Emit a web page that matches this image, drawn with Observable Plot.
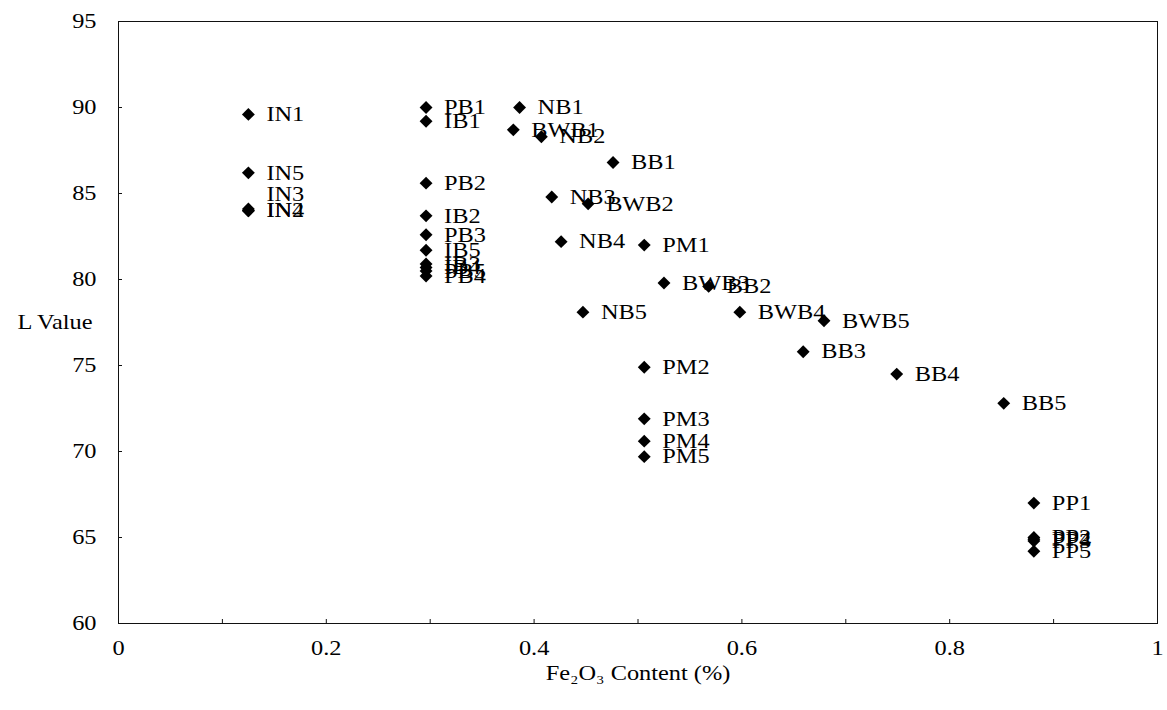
<!DOCTYPE html>
<html>
<head>
<meta charset="utf-8">
<script src="https://cdn.jsdelivr.net/npm/d3@7"></script>
<script src="https://cdn.jsdelivr.net/npm/@observablehq/plot@0.6"></script>
<style>
  html, body { margin: 0; padding: 0; background: #fff; }
  #chart svg { display: block; }
</style>
</head>
<body>
<div id="chart"></div>
<script>
// ---- data ----
const sampleNames = [
  "IN1","IN2","IN3","IN4","IN5",
  "IB1","IB2","IB3","IB4","IB5",
  "PB1","PB2","PB3","PB4","PB5",
  "NB1","NB2","NB3","NB4","NB5",
  "BWB1","BWB2","BWB3","BWB4","BWB5",
  "BB1","BB2","BB3","BB4","BB5",
  "PM1","PM2","PM3","PM4","PM5",
  "PP1","PP2","PP3","PP4","PP5"
];
const fe2o3Content = [
  0.125, 0.125, 0.125, 0.125, 0.125,
  0.296, 0.296, 0.296, 0.296, 0.296,
  0.296, 0.296, 0.296, 0.296, 0.296,
  0.386, 0.407, 0.417, 0.426, 0.447,
  0.380, 0.452, 0.525, 0.598, 0.679,
  0.476, 0.568, 0.659, 0.749, 0.852,
  0.506, 0.506, 0.506, 0.506, 0.506,
  0.881, 0.881, 0.881, 0.881, 0.881
];
const lValues = [
  89.6, 84.0, 84.1, 84.0, 86.2,
  89.2, 83.7, 80.9, 80.7, 81.7,
  90.0, 85.6, 82.6, 80.2, 80.5,
  90.0, 88.3, 84.8, 82.2, 78.1,
  88.7, 84.4, 79.8, 78.1, 77.6,
  86.8, 79.6, 75.8, 74.5, 72.8,
  82.0, 74.9, 71.9, 70.6, 69.7,
  67.0, 65.0, 64.8, 64.9, 64.2
];
const xTickLabels = [0, 0.2, 0.4, 0.6, 0.8, 1];
const xMinorTicks = [0, 0.1, 0.2, 0.3, 0.4, 0.5, 0.6, 0.7, 0.8, 0.9, 1];
const yTickLabels = [60, 65, 70, 75, 80, 85, 90, 95];
const xTitle = "Fe\u2082O\u2083 Content (%)";
const yTitle = "L Value";
const raisedLabels = ["IN3"];

// ---- table ----
const rows = sampleNames.map((name, i) => ({name, x: fe2o3Content[i], y: lValues[i]}));

const W = 1167, H = 710;
const mL = 118, mR = 10, mT = 21, mB = 87;
const plotW = W - mL - mR, plotH = H - mT - mB;
const font = "'Liberation Serif', 'Times New Roman', serif";
const fs = 21;

const chart = Plot.plot({
  width: W,
  height: H,
  marginLeft: mL,
  marginRight: mR,
  marginTop: mT,
  marginBottom: mB,
  style: {fontFamily: font, fontSize: fs + "px", color: "#000", background: "#fff"},
  x: {domain: [0, 1]},
  y: {domain: [60, 95]},
  marks: [
    Plot.frame({stroke: "#111", strokeWidth: 1}),
    Plot.tickX(xMinorTicks, {x: d => d, insetTop: plotH - 4, stroke: "#111"}),
    Plot.tickY(yTickLabels, {y: d => d, insetRight: plotW - 4, stroke: "#111"}),
    Plot.axisX(xTickLabels, {tickSize: 0, tickPadding: 17, tickFormat: d => String(d), fontSize: fs, label: null, fill: "#000"}),
    Plot.axisY(yTickLabels, {tickSize: 0, tickPadding: 22, tickFormat: d => String(d), fontSize: fs, label: null, fill: "#000"}),
    Plot.text([xTitle], {frameAnchor: "bottom", dy: 56, text: d => d, fontSize: fs, fill: "#000"}),
    Plot.text([yTitle], {frameAnchor: "left", dx: -26, textAnchor: "end", text: d => d, fontSize: fs, fill: "#000"}),
    Plot.dot(rows, {x: "x", y: "y", symbol: "diamond2", r: 5.8, fill: "#000", stroke: "none"}),
    Plot.text(rows.filter(d => !raisedLabels.includes(d.name)), {x: "x", y: "y", text: "name", textAnchor: "start", dx: 18, fontSize: fs, fill: "#000"}),
    Plot.text(rows.filter(d => raisedLabels.includes(d.name)), {x: "x", y: "y", text: "name", textAnchor: "start", dx: 18, dy: -15, fontSize: fs, fill: "#000"})
  ]
});

// the reference's serif type is slightly wide: stretch each text about its anchor
chart.querySelectorAll("text").forEach(t => {
  const tr = t.getAttribute("transform");
  if (tr && tr.includes("translate") && !t.hasAttribute("x")) {
    t.setAttribute("transform", tr + " scale(1.16,1)");
  }
});

document.getElementById("chart").appendChild(chart);
</script>
</body>
</html>
